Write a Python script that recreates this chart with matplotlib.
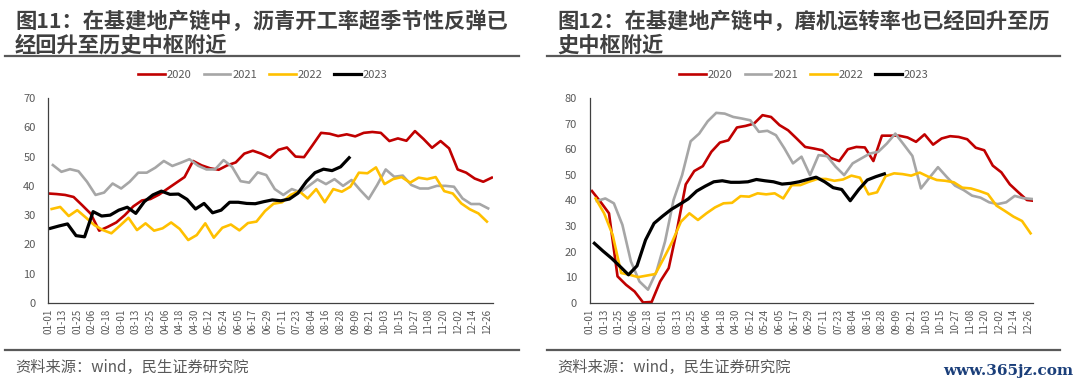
import numpy as np
import matplotlib.pyplot as plt
from matplotlib.lines import Line2D

plt.rcParams['font.family'] = ['Noto Sans CJK SC', 'DejaVu Sans']

# x axis: day of year, ticks every 12 days
tick_days = list(range(0, 361, 12))
tick_labels = ['01-01', '01-13', '01-25', '02-06', '02-18', '03-01', '03-13', '03-25',
               '04-06', '04-18', '04-30', '05-12', '05-24', '06-05', '06-17', '06-29',
               '07-11', '07-23', '08-04', '08-16', '08-28', '09-09', '09-21', '10-03',
               '10-15', '10-27', '11-08', '11-20', '12-02', '12-14', '12-26']
years = ['2020', '2021', '2022', '2023']

# 图11 asphalt operating rate (weekly), first day of each series
asphalt_start = [0, 4, 3, 2]
asphalt_2020 = [37.4, 37.2, 36.9, 36.2, 33.4, 30.5, 24.7, 26, 27.5, 30, 33, 35, 35.5, 37, 39,
                41, 43, 48.5, 47, 46, 45.5, 47, 48, 51, 52, 51, 49.6, 52.3, 53.1, 50, 49.8,
                53.9, 58.1, 57.8, 57, 57.6, 56.9, 58.1, 58.4, 58.1, 55.3, 56.2, 55.4, 58.7,
                56, 53, 55.3, 52.8, 45.6, 44.5, 42.5, 41.4, 42.8]
asphalt_2021 = [47.1, 44.8, 45.7, 45, 41.4, 36.9, 37.7, 40.8, 39.1, 41.4, 44.5, 44.5, 46.2,
                48.5, 46.8, 47.9, 49.1, 46.9, 45.6, 45.6, 48.8, 46.5, 41.6, 41.1, 44.6, 43.7,
                38.9, 36.9, 38.9, 37.8, 40, 42.2, 40.6, 42.3, 40, 42, 38.6, 35.5, 40.3, 45.6,
                43.1, 43.5, 40.3, 39.1, 39.1, 40, 40, 39.7, 35.7, 33.8, 33.8, 32.3]
asphalt_2022 = [32.1, 32.8, 29.7, 31.7, 29.2, 26.6, 24.9, 23.8, 26.4, 29.1, 24.9, 27.2, 24.7,
                25.5, 27.5, 25.3, 21.5, 23.2, 27.2, 22.3, 25.7, 26.8, 24.8, 27.3, 27.8, 31.4,
                33.9, 34.4, 36.9, 38.2, 35.7, 38.9, 34.4, 38.9, 38, 39.7, 44.5, 44.3, 46.3,
                40.6, 42.3, 43, 41.1, 42.8, 42.3, 43, 38.2, 37.4, 34, 32, 30.6, 27.8]
asphalt_2023 = [25.5, 26.3, 27, 23, 22.6, 31.2, 29.7, 30, 31.7, 32.7, 30.6, 34.6, 36.9, 38.2,
                37.1, 37.2, 35.4, 32.1, 34, 30.8, 31.7, 34.4, 34.4, 34, 33.9, 34.6, 35.2,
                34.9, 35.5, 37.5, 41.5, 44.5, 45.7, 45.2, 46.5, 49.6]

# 图12 mill operating rate (weekly)
mill_start = [2, 6, 5, 4]
mill_2020 = [43.7, 39.5, 35, 10.4, 7.1, 4.5, 0.2, 0.4, 8.4, 13.6, 29, 46.3, 51.5, 53.4, 59,
             62.6, 63.5, 68.5, 69.1, 70, 73.3, 72.6, 69.4, 67.4, 64.2, 60.9, 60.3, 59.6, 56.6,
             55.4, 60, 60.9, 60.7, 55.4, 65.3, 65.3, 65.3, 64.6, 62.9, 65.8, 61.8, 64.2,
             65.1, 64.8, 63.9, 60.6, 59.6, 53.6, 51, 46.3, 43.2, 40.2, 39.8]
mill_2021 = [39.8, 40.8, 38.9, 30.5, 16.2, 8.4, 5.2, 12.3, 24, 40.2, 49.9, 63.1, 66.1, 70.9,
             74.2, 73.9, 72.6, 72, 71.3, 66.8, 67.2, 65.5, 60.3, 54.5, 57.1, 49.9, 57.7,
             57.3, 53.2, 49.9, 54.5, 56.4, 58.3, 59, 62.2, 66.1, 61.8, 57.4, 44.7, 48.9, 53,
             49.3, 45.8, 44.1, 41.9, 41.1, 39.3, 38.6, 39.3, 41.8, 40.9, 40.6]
mill_2022 = [40.8, 35, 26.6, 11.7, 11, 10.1, 10.7, 11.3, 17.5, 24, 31.7, 35, 32.4, 35, 37.3,
             38.9, 39.1, 41.7, 41.5, 42.8, 42.4, 42.8, 40.8, 46, 46, 47.3, 48.4, 48.4, 47.7,
             48.2, 49.7, 48.9, 42.4, 43.2, 49.5, 50.6, 50.3, 49.7, 50.9, 49.3, 48, 47.7,
             47.1, 45, 44.7, 43.7, 42.5, 38, 35.9, 33.7, 32, 27.2]
mill_2023 = [23.3, 20.3, 17.5, 14.3, 11, 14.5, 24.6, 31.1, 33.9, 36.5, 38.5, 40.6, 43.7, 45.6,
             47.3, 47.7, 47.1, 47.1, 47.3, 48.2, 47.7, 47.3, 46.4, 46.7, 47.3, 48.2, 49.1,
             47.3, 45, 44.3, 39.9, 44.3, 48, 49.3, 50.4]

colors = ['#C00000', '#A6A6A6', '#FFC000', '#000000']
widths = [1.9, 1.9, 1.9, 2.3]
text_gray = '#595959'
title_gray = '#404040'

W, H = 1080, 386
fig = plt.figure(figsize=(W / 100, H / 100), dpi=100)


def fx(px):
    return px / W


def fy(py):
    return 1 - py / H


def draw_panel(x0, x1, xmax, ymax, series, starts, title1, title2, legend_cx, page_l, page_r):
    ax = fig.add_axes([fx(x0), fy(303), fx(x1 - x0), (303 - 98) / H])
    for vals, st, c, lw, lab in zip(series, starts, colors, widths, years):
        days = st + 7 * np.arange(len(vals))
        ax.plot(days, vals, color=c, lw=lw, label=lab, solid_joinstyle='round')
    ax.set_xlim(0, xmax)
    ax.set_ylim(0, ymax)
    ax.set_yticks(range(0, ymax + 1, 10))
    ax.set_xticks(tick_days)
    ax.set_xticklabels(tick_labels, rotation=90, fontsize=7, color=text_gray)
    ax.tick_params(axis='y', labelsize=8, labelcolor=text_gray, length=0, pad=9)
    ax.tick_params(axis='x', length=0, pad=4)
    for s in ['top', 'right']:
        ax.spines[s].set_visible(False)
    for s in ['left', 'bottom']:
        ax.spines[s].set_color('#404040')
        ax.spines[s].set_linewidth(0.9)

    fig.text(fx(page_l + 10), fy(21), title1, fontsize=15.3, fontweight='bold',
             color=title_gray, va='center', ha='left')
    fig.text(fx(page_l + 10), fy(45), title2, fontsize=15.3, fontweight='bold',
             color=title_gray, va='center', ha='left')
    fig.add_artist(Line2D([fx(page_l), fx(page_r)], [fy(56), fy(56)], color='#595959', lw=1.6))
    fig.add_artist(Line2D([fx(page_l), fx(page_r)], [fy(350), fy(350)], color='#595959', lw=1.6))
    fig.text(fx(page_l + 10), fy(367), '资料来源：wind，民生证券研究院', fontsize=11,
             color=text_gray, va='center', ha='left')

    handles, labels = ax.get_legend_handles_labels()
    fig.legend(handles, labels, loc='center', bbox_to_anchor=(fx(legend_cx), fy(75)),
               ncol=4, frameon=False, fontsize=8, handlelength=2.4, handletextpad=0.15,
               columnspacing=1.1, labelcolor=text_gray)
    return ax


draw_panel(48, 493, 365, 70,
           [asphalt_2020, asphalt_2021, asphalt_2022, asphalt_2023], asphalt_start,
           '图11：在基建地产链中，沥青开工率超季节性反弹已', '经回升至历史中枢附近',
           263, 5, 519)
draw_panel(589.5, 1033, 364, 80,
           [mill_2020, mill_2021, mill_2022, mill_2023], mill_start,
           '图12：在基建地产链中，磨机运转率也已经回升至历', '史中枢附近',
           804, 547, 1060)

fig.text(fx(1073), fy(371), 'www.365jz.com', fontsize=11, color='#1B3F7A',
         family='DejaVu Serif', fontweight='bold', ha='right', va='center')

fig.savefig('out.png', dpi=100)
